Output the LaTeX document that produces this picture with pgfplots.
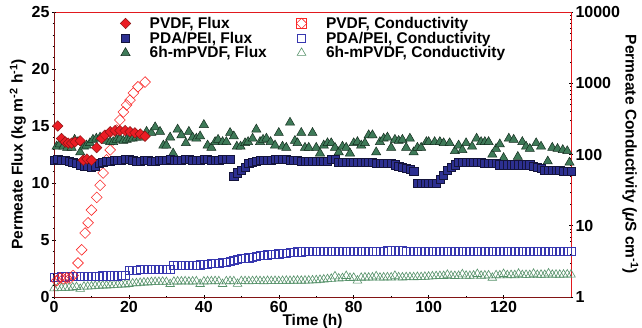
\documentclass[border=0pt]{standalone}
\usepackage{fontspec}
\setmainfont{Liberation Sans}
\usepackage{pgfplots}
\pgfplotsset{compat=1.18}
\definecolor{redfill}{RGB}{235,28,36}
\definecolor{rededge}{RGB}{140,20,20}
\definecolor{navyfill}{RGB}{45,48,145}
\definecolor{navyedge}{RGB}{20,20,60}
\definecolor{greenfill}{RGB}{62,122,88}
\definecolor{greenedge}{RGB}{20,45,30}
\definecolor{redopen}{RGB}{250,40,40}
\definecolor{blueopen}{RGB}{55,55,175}
\definecolor{greenopen}{RGB}{85,145,105}
\definecolor{maroon}{RGB}{130,20,20}
\definecolor{axred}{RGB}{225,25,30}
\pgfplotsset{
  common/.style={
    at={(0,0)}, anchor=south west, scale only axis,
    width=517pt, height=285pt,
    xmin=0, xmax=138,
    tick align=inside,
    major tick length=4pt, minor tick length=2.5pt,
    every tick/.style={black, line width=0.5pt},
    /pgf/number format/assume math mode=true,
    ticklabel style={font=\fontsize{16}{16}\selectfont\bfseries},
  },
  leg/.style={legend style={draw=none, fill=none, anchor=north west,
    font=\fontsize{15.5}{15.5}\selectfont\bfseries, row sep=-2pt,
    /tikz/column 1/.style={column sep=17pt},
    cells={anchor=west}}},
  pvdfF/.style={rededge, only marks, mark=square*, mark size=3.7pt, mark options={rotate=45, fill=redfill, draw=rededge, line width=0.5pt}},
  pdaF/.style={navyedge, only marks, mark=square*, mark size=4.1pt, mark options={fill=navyfill, draw=navyedge, line width=0.5pt}},
  mF/.style={greenedge, only marks, mark=triangle*, mark size=5.3pt, mark options={fill=greenfill, draw=greenedge, line width=0.5pt}},
  pvdfC/.style={redopen, only marks, mark=square, mark size=3.8pt, mark options={rotate=45, draw=redopen, line width=0.6pt}},
  pdaC/.style={blueopen, only marks, mark=square, mark size=4.1pt, mark options={draw=blueopen, line width=0.6pt}},
  mC/.style={greenopen, only marks, mark=triangle, mark size=5.0pt, mark options={draw=greenopen, line width=0.6pt}},
}
\begin{document}
\begin{tikzpicture}
% ---------- conductivity axis (right, log) ----------
\begin{axis}[common, leg,
  ymode=log, ymin=1, ymax=10000,
  axis x line=top, axis y line=right,
  x axis line style={-, draw=axred, line width=0.8pt},
  y axis line style={-, draw=axred, line width=0.8pt},
  xtick=\empty,
  ytick={1,10,100,1000,10000},
  yticklabels={1,10,100,1000,10000},
  minor ytick={2,3,4,5,6,7,8,9,20,30,40,50,60,70,80,90,200,300,400,500,600,700,800,900,2000,3000,4000,5000,6000,7000,8000,9000},
  yticklabel style={xshift=-1pt},
  ylabel={Permeate Conductivity (\textit{μ}S cm\textsuperscript{-1})},
  ylabel style={at={(axis description cs:1.115,0.5)}, anchor=center, rotate=180, font=\fontsize{15.5}{15.5}\selectfont\bfseries},
  legend style={at={(axis description cs:0.462,0.997)}},
]
\addlegendimage{legend image code/.code={
  \draw[redopen, line width=0.6pt] (0.3cm-5.2pt,-5.2pt) rectangle (0.3cm+5.2pt,5.2pt);
  \draw[redopen, line width=0.6pt] (0.3cm,-5.2pt) -- (0.3cm+5.2pt,0pt) -- (0.3cm,5.2pt) -- (0.3cm-5.2pt,0pt) -- cycle;}}
\addlegendentry{PVDF, Conductivity}
\addlegendimage{pdaC}
\addlegendentry{PDA/PEI, Conductivity}
\addlegendimage{mC}
\addlegendentry{6h-mPVDF, Conductivity}

% 6h-mPVDF conductivity
\addplot[mC, forget plot] coordinates {
(0,1.32)(1,1.34)(2,1.33)(3,1.35)(4,1.34)(5,1.36)(6,1.38)(7,1.30)(8,1.40)(9,1.40)(10,1.41)(11,1.43)(12,1.44)(13,1.45)(14,1.45)(15,1.46)(16,1.48)(17,1.48)(18,1.50)(19,1.50)(20,1.52)
(21,1.55)(22,1.56)(23,1.58)(24,1.60)(25,1.60)(26,1.62)(27,1.63)(28,1.63)(29,1.64)(30,1.62)(31,1.52)(32,1.64)(33,1.65)(34,1.65)(35,1.66)(36,1.64)(37,1.65)(38,1.66)(39,1.52)(40,1.65)
(41,1.66)(42,1.66)(43,1.67)(44,1.66)(45,1.52)(46,1.66)(47,1.67)(48,1.66)(49,1.53)(50,1.67)(51,1.67)(52,1.66)(53,1.67)(54,1.68)(55,1.67)(56,1.66)(57,1.68)(58,1.67)(59,1.68)(60,1.67)
(61,1.68)(62,1.69)(63,1.68)(64,1.69)(65,1.70)(66,1.69)(67,1.70)(68,1.70)(69,1.71)(70,1.72)(71,1.74)(72,1.76)(73,1.78)(74,1.80)(75,1.95)(76,1.82)(77,1.84)(78,1.97)(79,1.85)(80,1.86)
(81,1.70)(82,1.86)(83,1.88)(84,1.87)(85,1.88)(86,1.95)(87,1.87)(88,1.88)(89,1.89)(90,1.88)(91,1.98)(92,1.89)(93,1.88)(94,1.90)(95,1.90)(96,1.89)(97,1.91)(98,1.90)(99,1.92)(100,1.93)
(101,1.95)(102,1.96)(103,1.97)(104,1.97)(105,2.05)(106,1.98)(107,1.97)(108,1.98)(109,2.08)(110,1.99)(111,1.98)(112,2.00)(113,2.10)(114,1.99)(115,2.00)(116,2.01)(117,1.86)(118,2.02)(119,2.01)(120,2.10)
(121,2.02)(122,2.03)(123,2.02)(124,2.12)(125,2.03)(126,2.04)(127,2.03)(128,2.12)(129,2.04)(130,2.05)(131,2.04)(132,2.14)(133,2.05)(134,2.06)(135,2.05)(136,2.06)(137,2.07)(138,2.06)
};
% PDA/PEI conductivity
\addplot[pdaC, forget plot] coordinates {
(0,1.9)(1,1.9)(2,1.92)(3,1.92)(4,1.93)(5,1.95)(6,1.95)(7,1.95)(8,1.96)(9,1.96)(10,1.97)(11,1.97)(12,1.97)(13,1.98)(14,1.98)(15,1.98)(16,1.99)(17,1.99)(18,2.0)(19,2.0)(20,2.4)
(21,2.4)(22,2.4)(23,2.42)(24,2.42)(25,2.42)(26,2.43)(27,2.43)(28,2.44)(29,2.44)(30,2.45)(31,2.45)(32,2.8)(33,2.8)(34,2.8)(35,2.8)(36,2.8)(37,2.81)(38,2.82)(39,2.83)(40,2.85)
(41,2.9)(42,2.95)(43,3.0)(44,3.0)(45,3.05)(46,3.1)(47,3.2)(48,3.3)(49,3.4)(50,3.45)(51,3.5)(52,3.55)(53,3.6)(54,3.7)(55,3.8)(56,3.85)(57,3.9)(58,3.95)(59,4.0)(60,4.05)
(61,4.1)(62,4.15)(63,4.2)(64,4.25)(65,4.3)(66,4.3)(67,4.35)(68,4.35)(69,4.4)(70,4.4)(71,4.4)(72,4.4)(73,4.4)(74,4.4)(75,4.4)(76,4.4)(77,4.4)(78,4.4)(79,4.4)(80,4.4)
(81,4.4)(82,4.4)(83,4.4)(84,4.4)(85,4.4)(86,4.4)(87,4.4)(88,4.4)(89,4.45)(90,4.45)(91,4.45)(92,4.45)(93,4.45)(94,4.4)(95,4.4)(96,4.4)(97,4.4)(98,4.4)(99,4.4)(100,4.4)
(101,4.4)(102,4.4)(103,4.4)(104,4.4)(105,4.4)(106,4.4)(107,4.4)(108,4.4)(109,4.4)(110,4.4)(111,4.4)(112,4.4)(113,4.4)(114,4.4)(115,4.4)(116,4.4)(117,4.4)(118,4.4)(119,4.4)(120,4.4)
(121,4.4)(122,4.4)(123,4.4)(124,4.4)(125,4.4)(126,4.4)(127,4.4)(128,4.4)(129,4.4)(130,4.4)(131,4.4)(132,4.4)(133,4.4)(134,4.4)(135,4.4)(136,4.4)(137,4.4)(138,4.4)
};
% PVDF conductivity
\addplot[pvdfC, forget plot] coordinates {
(0.7,1.7)(1.6,1.85)(2.5,1.8)(3.4,1.85)(4.3,1.85)(5.1,2.0)(6.4,3.0)(7.4,4.6)(8.3,7.9)(9.1,11)(10,16.6)
(11.4,25)(12.3,37)(13.1,55)(14,84)(15,116)(15.8,160)(16.7,220)(17.6,305)(18.5,395)(19.4,495)(20.3,580)(21.2,730)(22.4,890)(24.3,1040)
};
\end{axis}
% ---------- flux axis (left, linear) ----------
\begin{axis}[common, leg,
  ymin=0, ymax=25,
  axis x line=bottom, axis y line=left,
  x axis line style={-, draw=maroon, line width=0.8pt},
  y axis line style={-, draw=maroon, line width=0.8pt},
  xtick={0,20,40,60,80,100,120},
  minor x tick num=1,
  ytick={0,5,10,15,20,25},
  minor y tick num=4,
  xticklabel style={yshift=1pt},
  yticklabel style={xshift=1pt},
  xlabel={Time (h)},
  xlabel style={at={(axis description cs:0.5,-0.086)}, anchor=center, font=\fontsize{15.5}{15.5}\selectfont\bfseries},
  ylabel={Permeate Flux (kg m\textsuperscript{-2} h\textsuperscript{-1})},
  ylabel style={at={(axis description cs:-0.07,0.5)}, anchor=center, font=\fontsize{15.5}{15.5}\selectfont\bfseries},
  legend style={at={(axis description cs:0.122,0.997)}},
]
\addlegendimage{pvdfF}
\addlegendentry{PVDF, Flux}
\addlegendimage{pdaF}
\addlegendentry{PDA/PEI, Flux}
\addlegendimage{mF}
\addlegendentry{6h-mPVDF, Flux}
% 6h-mPVDF flux
\addplot[mF, forget plot] coordinates {
(0.7,13.2)(1.5,13.4)(2.5,13.2)(3.5,13.1)(4.7,13.1)(5.5,13.8)(6.4,13.6)(7.0,12.7)(8.0,13.2)(8.7,13.3)(9.6,13.5)(10.4,13.8)(11.3,13.9)(12.3,14.0)(13.2,13.9)(14.0,13.7)(15.0,13.6)(15.8,13.6)(16.7,13.8)(17.6,13.9)(18.5,13.7)(19.4,13.8)(20.3,13.9)(21.0,13.9)(22.0,14.0)(23.0,14.0)(24.7,14.5)
(26,14.4)(27,14.9)(28.3,14.5)(29.2,13.3)(30,13.3)(31,14.0)(31.8,12.6)(33,14.7)(34,14.2)(35.2,13.5)(36,14.5)(37,14.0)(38,13.9)(39,14.1)(40,15.1)(41,13.3)(42,13.1)(43,13.6)(43.8,13.8)(45,13.6)(46,13.6)(47,14.4)(48,14.1)(48.8,13.2)(49.8,13.2)
(51,13.5)(51.8,13.6)(53,13.9)(54,14.7)(55,13.6)(55.8,13.8)(56.7,13.9)(57.8,13.6)(59,13.3)(60,14.4)(61,13.2)(62,13.1)(63,15.3)(64.3,13.7)(65,13.5)(66,14.4)(67,13.1)(68,13.1)(69,14.4)(70,13.1)(71,12.6)(72,13.3)(73,13.5)(74,13.5)(75,13.1)
(76,12.7)(77,13.2)(78,13.1)(79,12.6)(80,13.5)(81,13.6)(82,13.3)(83,13.5)(84,14.2)(85,14.2)(86,12.7)(87,13.6)(88,13.9)(89,14.0)(90,13.1)(91,13.8)(92,13.7)(93,13.8)(94,13.1)(95,13.9)(96,12.7)(97,13.1)(98,13.1)(99.4,13.6)(100,13.6)
(101.6,13.6)(103,13.6)(104,13.5)(105.6,13.5)(107,12.8)(108,13.3)(109,12.9)(110,13.5)(111.6,13.2)(112.8,13.9)(114,13.6)(115,13.6)(116,13.6)(117,12.5)(118,13.0)(119,13.4)(120,12.2)(121.4,13.9)(122.7,13.8)(123.8,12.3)(125,13.6)
(126,13.2)(127,13.0)(128.7,13.5)(130,13.2)(131.8,11.9)(133,13.1)(134.4,13.0)(135.8,12.9)(137,12.8)(137.6,11.8)
};
% PDA/PEI flux
\addplot[pdaF, forget plot] coordinates {
(0,12.0)(1,12.1)(2,12.0)(3,12.0)(4,11.9)(5,11.8)(6,11.7)(7,11.6)(8,11.5)(9,11.5)(10,11.4)(11,11.5)(12,11.7)(13,11.8)(14,11.9)(15,11.9)(16,12.0)(17,12.0)(18,12.0)(19,12.1)(20,12.1)
(21,12.0)(22,11.9)(23,11.9)(24,12.0)(25,12.0)(26,11.9)(27,11.9)(28,12.0)(29,12.0)(30,12.0)(31,12.1)(32,12.0)(33,12.0)(34,12.0)(35,12.1)(36,12.1)(37,12.0)(38,12.0)(39,12.0)(40,12.1)
(41,12.1)(42,12.0)(43,12.0)(44,12.0)(45,12.1)(46,12.1)(47,12.1)(48,10.6)(49,10.9)(50,11.1)(51,11.4)(52,11.7)(53,11.8)(54,11.9)(55,12.0)(56,12.0)(57,12.0)(58,12.0)(59,12.1)(60,12.1)
(61,12.1)(62,12.1)(63,12.0)(64,12.0)(65,12.0)(66,11.9)(67,11.9)(68,11.9)(69,11.9)(70,11.9)(71,11.9)(72,11.9)(73,11.9)(74,12.1)(75,12.1)(76,11.8)(77,11.8)(78,11.8)(79,11.8)(80,11.8)
(81,11.8)(82,11.8)(83,11.8)(84,11.8)(85,11.8)(86,11.7)(87,11.7)(88,11.7)(89,11.7)(90,11.7)(91,11.6)(92,11.5)(93,11.4)(94,11.3)(95,11.2)(96,11.0)(97,10.0)(98,10.0)(99,10.0)(100,10.0)
(101,10.0)(102,10.0)(103,10.3)(104,10.7)(105,11.1)(106,11.4)(107,11.6)(108,11.8)(109,11.8)(110,11.8)(111,11.8)(112,11.8)(113,11.8)(114,11.8)(115,11.7)(116,11.7)(117,11.7)(118,11.7)(119,11.6)(120,11.6)
(121,11.6)(122,11.6)(123,11.6)(124,11.6)(125,11.6)(126,11.6)(127,11.6)(128,11.5)(129,11.4)(130,11.3)(131,11.1)(132,11.1)(133,11.1)(134,11.1)(135,11.1)(136,11.0)(137,11.0)(138,11.0)
};
% PVDF flux
\addplot[pvdfF, forget plot] coordinates {
(1.0,15.0)(2.0,13.9)(3.0,13.6)(3.8,13.5)(4.7,13.5)(5.6,13.6)(7.0,13.7)(7.8,12.0)(8.8,12.1)(10.0,12.0)(11.4,13.1)(12.7,13.9)(13.6,14.2)(15,14.5)(16.3,14.6)(17.6,14.6)(19,14.6)(20.3,14.5)(21.6,14.4)(23,14.3)(24.3,14.1)
};
\end{axis}
\pgfresetboundingbox
\path[use as bounding box] (-54pt,-31pt) rectangle (588pt,297pt);
\end{tikzpicture}
\end{document}
